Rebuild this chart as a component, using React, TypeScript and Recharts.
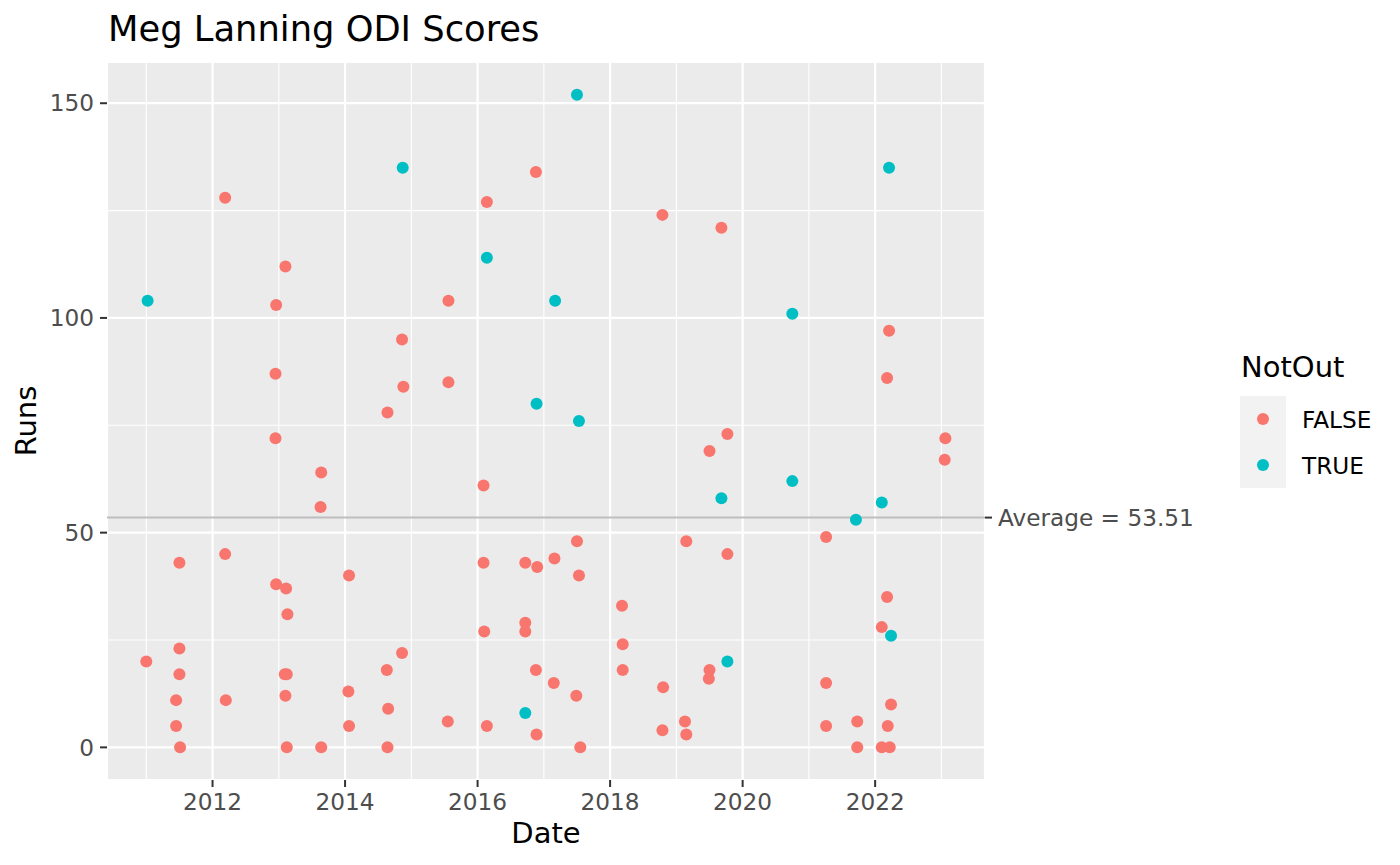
import React from 'react';
import { ScatterChart, Scatter, XAxis, YAxis, CartesianGrid, ReferenceLine, Label } from 'recharts';

// Decimal-year dates and runs
const falseDates = [
  2011.00, 2011.50, 2011.50, 2011.50, 2011.45, 2011.45, 2011.51,
  2012.19, 2012.19, 2012.20,
  2012.96, 2012.95, 2012.95, 2012.96,
  2013.10, 2013.11, 2013.13, 2013.09, 2013.12, 2013.10, 2013.12,
  2013.64, 2013.63, 2013.64,
  2014.06, 2014.05, 2014.06,
  2014.64, 2014.63, 2014.65, 2014.64,
  2014.86, 2014.88, 2014.86,
  2015.56, 2015.56, 2015.55,
  2016.14, 2016.09, 2016.09, 2016.10, 2016.14,
  2016.72, 2016.72, 2016.72,
  2016.88, 2016.90, 2016.88, 2016.89,
  2017.16, 2017.15,
  2017.50, 2017.53, 2017.49, 2017.55,
  2018.18, 2018.19, 2018.19,
  2018.79, 2018.80, 2018.79,
  2019.15, 2019.13, 2019.15,
  2019.50, 2019.50, 2019.49,
  2019.68, 2019.77, 2019.77,
  2021.26, 2021.26, 2021.26,
  2021.73, 2021.73,
  2022.21, 2022.18, 2022.18, 2022.10, 2022.24, 2022.19, 2022.10, 2022.22,
  2023.06, 2023.05,
];
const falseRuns = [
  20, 43, 23, 17, 11, 5, 0,
  128, 45, 11,
  103, 87, 72, 38,
  112, 37, 31, 17, 17, 12, 0,
  64, 56, 0,
  40, 13, 5,
  78, 18, 9, 0,
  95, 84, 22,
  104, 85, 6,
  127, 61, 43, 27, 5,
  43, 29, 27,
  134, 42, 18, 3,
  44, 15,
  48, 40, 12, 0,
  33, 24, 18,
  124, 14, 4,
  48, 6, 3,
  69, 18, 16,
  121, 73, 45,
  49, 15, 5,
  6, 0,
  97, 86, 35, 28, 10, 5, 0, 0,
  72, 67,
];
const trueDates = [
  2011.02, 2014.87, 2016.14, 2016.89, 2016.72, 2017.50, 2017.17, 2017.53,
  2019.68, 2019.77, 2020.75, 2020.75, 2021.71, 2022.10, 2022.21, 2022.24,
];
const trueRuns = [104, 135, 114, 80, 8, 152, 104, 76, 58, 20, 101, 62, 53, 57, 135, 26];

const xMajorTicks = [2012, 2014, 2016, 2018, 2020, 2022];
const xMinorTicks = [2011, 2013, 2015, 2017, 2019, 2021, 2023];
const yMajorTicks = [0, 50, 100, 150];
const yMinorTicks = [25, 75, 125];
const averageRuns = 53.51;

const falseData = falseDates.map((d, i) => ({ date: d, runs: falseRuns[i] }));
const trueData = trueDates.map((d, i) => ({ date: d, runs: trueRuns[i] }));

const FONT = '"DejaVu Sans", Verdana, sans-serif';
const RED = '#F8766D';
const TEAL = '#00BFC4';
const TICK_FS = 23.2;
const AXIS_TITLE_FS = 29;

const dot = (color: string) => (p: any) => (
  <circle cx={p.cx} cy={p.cy} r={6} fill={color} stroke="none" />
);

const AverageLabel = (props: any) => {
  const vb = props.viewBox || {};
  const x = vb.x + vb.width;
  const y = vb.y;
  return (
    <g>
      <line x1={x} x2={x + 7} y1={y} y2={y} stroke="#333333" strokeWidth={2} />
      <text x={x + 13} y={y} dominantBaseline="central" fontSize={TICK_FS} fill="#4D4D4D" fontFamily={FONT}>
        {`Average = ${averageRuns}`}
      </text>
    </g>
  );
};

const RunsLabel = (props: any) => {
  const vb = props.viewBox || {};
  const cy = vb.y + vb.height / 2;
  const x = vb.x + 36;
  return (
    <text x={x} y={cy} transform={`rotate(-90, ${x}, ${cy})`} textAnchor="middle" fontSize={AXIS_TITLE_FS} fill="#000" fontFamily={FONT}>
      Runs
    </text>
  );
};

export default function App() {
  return (
    <div style={{ position: 'absolute', left: 0, top: 0, width: 1400, height: 865, background: '#fff', fontFamily: FONT }}>
      <div style={{ position: 'absolute', left: 108, top: 9, fontSize: 35.3, lineHeight: '40px', color: '#000', whiteSpace: 'nowrap' }}>
        Meg Lanning ODI Scores
      </div>
      <ScatterChart width={1400} height={865} margin={{ top: 62, right: 415, bottom: 0, left: 0 }} style={{ fontFamily: FONT }}>
        <CartesianGrid fill="#EBEBEB" stroke="#FFFFFF" strokeWidth={2.2} />
        {xMinorTicks.map((v) => (
          <ReferenceLine key={`xm${v}`} x={v} stroke="#FFFFFF" strokeWidth={1.1} ifOverflow="hidden" zIndex={-50} />
        ))}
        {yMinorTicks.map((v) => (
          <ReferenceLine key={`ym${v}`} y={v} stroke="#FFFFFF" strokeWidth={1.1} ifOverflow="hidden" zIndex={-50} />
        ))}
        <ReferenceLine y={averageRuns} stroke="#BEBEBE" strokeWidth={2} zIndex={-40} label={<AverageLabel />} />
        <XAxis
          type="number"
          dataKey="date"
          domain={[2010.407, 2023.658]}
          allowDataOverflow
          ticks={xMajorTicks}
          height={85}
          axisLine={false}
          tickSize={7}
          tickMargin={7}
          tickLine={{ stroke: '#333333', strokeWidth: 2 }}
          tick={{ fill: '#4D4D4D', fontSize: TICK_FS, fontFamily: FONT }}
        >
          <Label value="Date" position="insideBottom" offset={22} fontSize={AXIS_TITLE_FS} fill="#000" fontFamily={FONT} />
        </XAxis>
        <YAxis
          type="number"
          dataKey="runs"
          domain={[-7.6, 159.6]}
          allowDataOverflow
          ticks={yMajorTicks}
          width={107}
          axisLine={false}
          tickSize={7}
          tickMargin={6}
          tickLine={{ stroke: '#333333', strokeWidth: 2 }}
          tick={{ fill: '#4D4D4D', fontSize: TICK_FS, fontFamily: FONT }}
        >
          <Label content={<RunsLabel />} />
        </YAxis>
        <Scatter name="FALSE" data={falseData} fill={RED} shape={dot(RED)} isAnimationActive={false} />
        <Scatter name="TRUE" data={trueData} fill={TEAL} shape={dot(TEAL)} isAnimationActive={false} />
      </ScatterChart>
      <div style={{ position: 'absolute', left: 1241, top: 350, fontSize: 29, lineHeight: '34px', color: '#000', whiteSpace: 'nowrap' }}>
        NotOut
      </div>
      {[
        { label: 'FALSE', color: RED },
        { label: 'TRUE', color: TEAL },
      ].map((item, i) => (
        <div key={item.label} style={{ position: 'absolute', left: 1240, top: 396 + i * 46, height: 46, display: 'flex', alignItems: 'center' }}>
          <div style={{ width: 46, height: 46, background: '#F2F2F2', position: 'relative' }}>
            <div style={{ position: 'absolute', left: 17, top: 17, width: 12, height: 12, borderRadius: 6, background: item.color }} />
          </div>
          <div style={{ marginLeft: 16, fontSize: TICK_FS, color: '#000', whiteSpace: 'nowrap' }}>{item.label}</div>
        </div>
      ))}
    </div>
  );
}
